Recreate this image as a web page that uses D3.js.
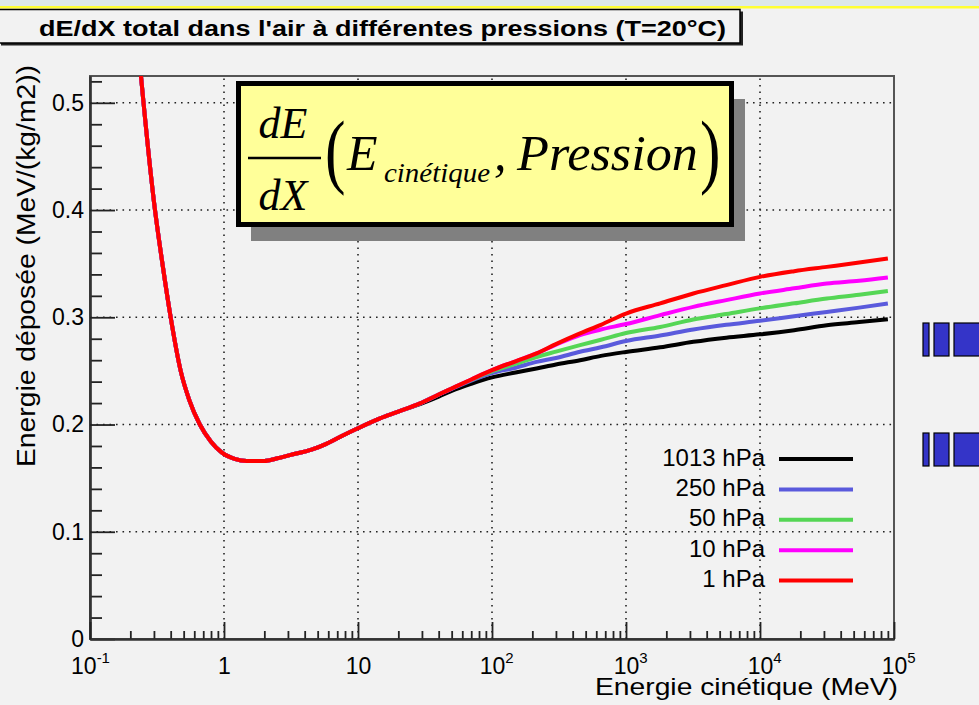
<!DOCTYPE html>
<html><head><meta charset="utf-8">
<script src="https://cdn.jsdelivr.net/npm/d3@7"></script>
<style>body{margin:0;background:#f2f2f2;} svg{display:block}</style>
</head><body><svg id="c" width="979" height="705"></svg>
<script>
// ---------- DATA ----------
const energies = [0.238, 0.25, 0.30, 0.35, 0.40, 0.475, 0.55, 0.66, 0.80, 0.96, 1.2, 1.48, 2.0, 2.5, 3.1, 4.5, 5.8, 7.5, 9.8, 14.6, 20, 29, 40, 50, 70, 100, 150, 215, 300, 454, 650, 1000, 1800, 3180, 5600, 10000, 18000, 31500, 55000, 90000];
const dedx1 =    [0.530, 0.502, 0.408, 0.347, 0.300, 0.250, 0.223, 0.200, 0.184, 0.174, 0.168, 0.166, 0.166, 0.1685, 0.1715, 0.1765, 0.182, 0.189, 0.196, 0.2057, 0.212, 0.2197, 0.228, 0.2336, 0.242, 0.2507, 0.259, 0.2663, 0.275, 0.285, 0.293, 0.3035, 0.313, 0.3222, 0.330, 0.3377, 0.343, 0.347, 0.351, 0.3548];
const dedx10 =   [0.530, 0.502, 0.408, 0.347, 0.300, 0.250, 0.223, 0.200, 0.184, 0.174, 0.168, 0.166, 0.166, 0.1685, 0.1715, 0.1765, 0.182, 0.189, 0.196, 0.2057, 0.212, 0.2197, 0.228, 0.2336, 0.242, 0.2507, 0.259, 0.2663, 0.2745, 0.2835, 0.2886, 0.2937, 0.302, 0.3097, 0.316, 0.3222, 0.327, 0.3315, 0.334, 0.3371];
const dedx50 =   [0.530, 0.502, 0.408, 0.347, 0.300, 0.250, 0.223, 0.200, 0.184, 0.174, 0.168, 0.166, 0.166, 0.1685, 0.1715, 0.1765, 0.182, 0.189, 0.196, 0.2057, 0.212, 0.2197, 0.228, 0.2336, 0.2415, 0.2495, 0.2565, 0.263, 0.268, 0.274, 0.279, 0.2853, 0.291, 0.298, 0.303, 0.3083, 0.313, 0.3175, 0.321, 0.3246];
const dedx250 =  [0.530, 0.502, 0.408, 0.347, 0.300, 0.250, 0.223, 0.200, 0.184, 0.174, 0.168, 0.166, 0.166, 0.1685, 0.1715, 0.1765, 0.182, 0.189, 0.196, 0.2057, 0.212, 0.2197, 0.228, 0.2332, 0.241, 0.2480, 0.253, 0.2584, 0.262, 0.2678, 0.272, 0.2779, 0.283, 0.2886, 0.293, 0.2967, 0.301, 0.305, 0.309, 0.3128];
const dedx1013 = [0.530, 0.502, 0.408, 0.347, 0.300, 0.250, 0.223, 0.200, 0.184, 0.174, 0.168, 0.166, 0.166, 0.1685, 0.1715, 0.1765, 0.182, 0.189, 0.196, 0.2057, 0.212, 0.2190, 0.226, 0.2314, 0.238, 0.2440, 0.2485, 0.2523, 0.256, 0.260, 0.264, 0.2677, 0.272, 0.2771, 0.281, 0.2841, 0.288, 0.2926, 0.2955, 0.2982];

const seriesNames  = ["1013 hPa", "250 hPa", "50 hPa", "10 hPa", "1 hPa"];
const seriesValues = [dedx1013, dedx250, dedx50, dedx10, dedx1];
const seriesColors = ["#000000", "#5a5adc", "#55d655", "#ff00ff", "#ff0000"];

const yTickValues = [0, 0.1, 0.2, 0.3, 0.4, 0.5];
const yTickLabels = ["0", "0.1", "0.2", "0.3", "0.4", "0.5"];
const xTickValues = [0.1, 1, 10, 100, 1000, 10000, 100000];
const xTickBase   = ["10", "1", "10", "10", "10", "10", "10"];
const xTickExp    = ["-1", "", "", "2", "3", "4", "5"];

const titleText = "dE/dX total dans l'air à différentes pressions (T=20°C)";
const xTitle = "Energie cinétique (MeV)";
const yTitle = "Energie déposée (MeV/(kg/m2))";

// ---------- LAYOUT ----------
const svg = d3.select("#c");
const L = 90, T = 76, R = 894, B = 639;
const FONT = "'Liberation Sans', Arial, Helvetica, sans-serif";
const SERIF = "'Liberation Serif', 'Times New Roman', serif";

const x = d3.scaleLog().domain([0.1, 1e5]).range([L, R]);
const y = d3.scaleLinear().domain([0, 0.525]).range([B, T]);

// background
svg.append("rect").attr("width", 979).attr("height", 705).attr("fill", "#f2f2f2");
svg.append("rect").attr("x", 0).attr("y", 0).attr("width", 979).attr("height", 7).attr("fill", "#dde8ea");
svg.append("rect").attr("x", 0).attr("y", 6).attr("width", 979).attr("height", 2.5).attr("fill", "#ffff33");

// title box
svg.append("rect").attr("x", 1).attr("y", 11.5).attr("width", 742).attr("height", 34).attr("fill", "#222");
svg.append("rect").attr("x", -1).attr("y", 9.5).attr("width", 741).attr("height", 33.5)
  .attr("fill", "#f2f2f2").attr("stroke", "#000").attr("stroke-width", 1.5);
svg.append("text").attr("x", 39).attr("y", 36).attr("font-family", FONT).attr("font-size", 22)
  .attr("font-weight", "bold").attr("textLength", 687).attr("lengthAdjust", "spacingAndGlyphs")
  .text(titleText);

// grid
const grid = svg.append("g").attr("stroke", "#222").attr("stroke-width", 1.6).attr("stroke-dasharray", "1.6 4.9");
grid.selectAll("line.gx").data(xTickValues.slice(1, -1)).join("line")
  .attr("x1", d => x(d)).attr("x2", d => x(d)).attr("y1", B).attr("y2", T);
grid.selectAll("line.gy").data(yTickValues.slice(1)).join("line")
  .attr("y1", d => y(d)).attr("y2", d => y(d)).attr("x1", L).attr("x2", R);

// frame
svg.append("rect").attr("x", L).attr("y", T).attr("width", R - L).attr("height", B - T)
  .attr("fill", "none").attr("stroke", "#555").attr("stroke-width", 2);

// formula box
const fb = svg.append("g");
fb.append("rect").attr("x", 251).attr("y", 99).attr("width", 494).attr("height", 142).attr("fill", "#808080");
fb.append("rect").attr("x", 238.5).attr("y", 83.5).attr("width", 493).attr("height", 141)
  .attr("fill", "#ffff99").attr("stroke", "#000").attr("stroke-width", 5);
fb.append("text").attr("x", 283).attr("y", 138).attr("text-anchor", "middle").attr("font-family", SERIF)
  .attr("font-style", "italic").attr("font-size", 44).text("dE");
fb.append("line").attr("x1", 248).attr("x2", 321).attr("y1", 158).attr("y2", 158).attr("stroke", "#000").attr("stroke-width", 2.5);
fb.append("text").attr("x", 283).attr("y", 210).attr("text-anchor", "middle").attr("font-family", SERIF)
  .attr("font-style", "italic").attr("font-size", 44).text("dX");
fb.append("text").attr("transform", "translate(325,178) scale(0.75,1)").attr("font-family", SERIF)
  .attr("font-size", 82).text("(");
fb.append("text").attr("x", 347).attr("y", 170).attr("font-family", SERIF).attr("font-style", "italic")
  .attr("font-size", 50).text("E");
fb.append("text").attr("x", 384).attr("y", 182).attr("font-family", SERIF).attr("font-style", "italic")
  .attr("font-size", 28).attr("textLength", 106).attr("lengthAdjust", "spacingAndGlyphs").text("cinétique");
fb.append("text").attr("x", 494).attr("y", 170).attr("font-family", SERIF).attr("font-style", "italic")
  .attr("font-size", 50).text(",");
fb.append("text").attr("x", 517).attr("y", 170).attr("font-family", SERIF).attr("font-style", "italic")
  .attr("font-size", 50).attr("textLength", 181).attr("lengthAdjust", "spacingAndGlyphs").text("Pression");
fb.append("text").attr("transform", "translate(700,178) scale(0.75,1)").attr("font-family", SERIF)
  .attr("font-size", 82).text(")");

// curves
svg.append("clipPath").attr("id", "clip").append("rect").attr("x", L).attr("y", T).attr("width", R - L).attr("height", B - T);
const line = d3.line().x((d, i) => x(energies[i])).y(d => y(d)).curve(d3.curveMonotoneX);
svg.append("g").attr("clip-path", "url(#clip)").selectAll("path").data(seriesValues).join("path")
  .attr("d", d => line(d)).attr("fill", "none").attr("stroke", (d, i) => seriesColors[i])
  .attr("stroke-width", 4).attr("stroke-linejoin", "round");

// axes
const yMinorVals = d3.range(1, 27).map(i => i * 0.02).filter(v => Math.abs(v * 10 - Math.round(v * 10)) > 1e-6);
const yMinor = svg.append("g").attr("transform", `translate(${L},0)`)
  .call(d3.axisLeft(y).tickValues(yMinorVals).tickSizeInner(-12).tickSizeOuter(0).tickFormat(""));
const yMajor = svg.append("g").attr("transform", `translate(${L},0)`)
  .call(d3.axisLeft(y).tickValues(yTickValues).tickSizeInner(-25).tickSizeOuter(0).tickPadding(6)
    .tickFormat((d, i) => yTickLabels[i]));
const xMinorVals = [];
[-1, 0, 1, 2, 3, 4].forEach(k => { for (let m = 2; m <= 9; m++) xMinorVals.push(m * Math.pow(10, k)); });
const xMinor = svg.append("g").attr("transform", `translate(0,${B})`)
  .call(d3.axisBottom(x).tickValues(xMinorVals).tickSizeInner(-8).tickSizeOuter(0).tickFormat(""));
const xMajor = svg.append("g").attr("transform", `translate(0,${B})`)
  .call(d3.axisBottom(x).tickValues(xTickValues).tickSizeInner(-17).tickSizeOuter(0).tickPadding(20)
    .tickFormat(""));
[yMinor, yMajor, xMinor, xMajor].forEach(g => {
  g.selectAll(".domain").attr("stroke", "#333").attr("stroke-width", 2.2);
  g.selectAll(".tick line").attr("stroke", "#222").attr("stroke-width", 1.8);
});
yMajor.selectAll(".tick text").attr("font-family", FONT).attr("font-size", 23).attr("fill", "#000");

// x tick labels (base + exponent)
xMajor.selectAll(".tick").each(function (d, i) {
  const g = d3.select(this);
  g.select("text").remove();
  const t = g.append("text").attr("y", 35).attr("text-anchor", "start").attr("font-family", FONT)
    .attr("font-size", 23).attr("fill", "#000");
  t.append("tspan").text(xTickBase[i]);
  if (xTickExp[i]) t.append("tspan").attr("font-size", 15).attr("dy", -11).text(xTickExp[i]);
  const full = t.node().getComputedTextLength();
  const base = t.select("tspan").node().getComputedTextLength();
  const off = xTickExp[i].startsWith("-") ? -full / 2 : -base / 2;
  t.attr("x", off);
});

// axis titles
svg.append("text").attr("x", 898).attr("y", 695).attr("text-anchor", "end").attr("font-family", FONT)
  .attr("font-size", 24).attr("textLength", 303).attr("lengthAdjust", "spacingAndGlyphs").text(xTitle);
svg.append("text").attr("transform", "translate(35,65) rotate(-90)").attr("text-anchor", "end")
  .attr("font-family", FONT).attr("font-size", 25).attr("textLength", 402)
  .attr("lengthAdjust", "spacingAndGlyphs").text(yTitle);

// legend
const leg = svg.append("g");
seriesNames.forEach((name, i) => {
  const ly = 459 + i * 30.4;
  leg.append("text").attr("x", 765).attr("y", ly + 6.5).attr("text-anchor", "end").attr("font-family", FONT)
    .attr("font-size", 24).text(name);
  leg.append("line").attr("x1", 779).attr("x2", 853).attr("y1", ly).attr("y2", ly)
    .attr("stroke", seriesColors[i]).attr("stroke-width", 4);
});

// right-side blue icons
[323, 433].forEach(ty => {
  [[923, 6], [934, 15], [954, 30]].forEach(([bx, bw]) => {
    svg.append("rect").attr("x", bx).attr("y", ty).attr("width", bw).attr("height", 33)
      .attr("fill", "#3434c8").attr("stroke", "#000").attr("stroke-width", 1.2);
  });
});
</script></body></html>
